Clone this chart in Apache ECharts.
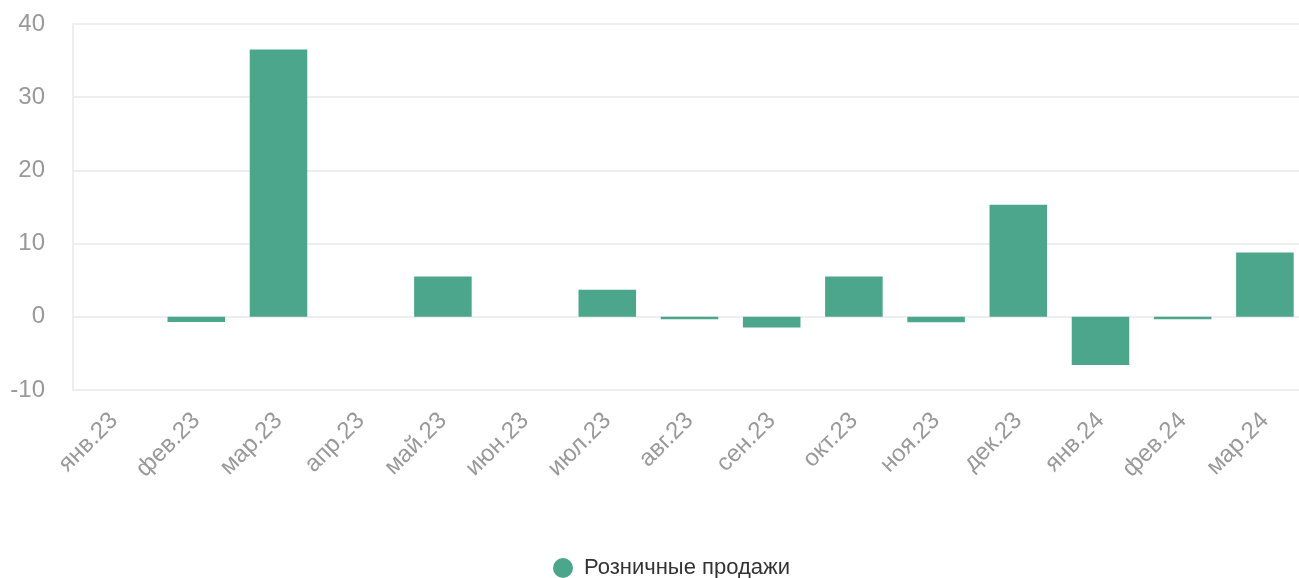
<!DOCTYPE html>
<html>
<head>
<meta charset="utf-8">
<script src="https://cdn.jsdelivr.net/npm/echarts@6/dist/echarts.min.js"></script>
<style>
  html, body { margin: 0; padding: 0; background: #fff; }
  #main { width: 1299px; height: 578px; }
</style>
</head>
<body>
<div id="main"></div>
<script>
// месяцы
var months = ['янв.23', 'фев.23', 'мар.23', 'апр.23', 'май.23', 'июн.23', 'июл.23', 'авг.23',
              'сен.23', 'окт.23', 'ноя.23', 'дек.23', 'янв.24', 'фев.24', 'мар.24'];
// розничные продажи, значения
var retail = [0, -0.7, 36.5, 0, 5.5, 0, 3.7, -0.35, -1.45, 5.5, -0.75, 15.3, -6.6, -0.35, 8.8];
var yTicks = { min: -10, max: 40, step: 10 };

var chart = echarts.init(document.getElementById('main'));

var option = {
    animation: false,
    textStyle: { fontFamily: 'Helvetica, Arial, "Liberation Sans", sans-serif' },
    grid: { left: 73, top: 24, width: 1233, height: 366, outerBoundsMode: 'none', containLabel: false },
    legend: {
        top: 552,
        left: 548,
        icon: 'circle',
        itemWidth: 20,
        itemHeight: 20,
        itemGap: 10,
        textStyle: { fontSize: 22, color: '#333', padding: [0, 0, 0, 6] },
        data: ['Розничные продажи']
    },
    xAxis: {
        type: 'category',
        data: months,
        axisLine: { show: false },
        axisTick: { show: false },
        axisLabel: { rotate: 45, fontSize: 24, color: '#999', margin: 27 }
    },
    yAxis: {
        type: 'value',
        min: yTicks.min,
        max: yTicks.max,
        interval: yTicks.step,
        axisLine: { show: true, lineStyle: { color: '#eeeeee', width: 2 } },
        axisTick: { show: false },
        axisLabel: { fontSize: 24, color: '#999', margin: 28 },
        splitLine: { lineStyle: { color: '#eeeeee', width: 2 } }
    },
    series: [{
        name: 'Розничные продажи',
        type: 'bar',
        data: retail,
        barWidth: '70%',
        itemStyle: { color: '#4ba68b' }
    }]
};
chart.setOption(option);
</script>
</body>
</html>
